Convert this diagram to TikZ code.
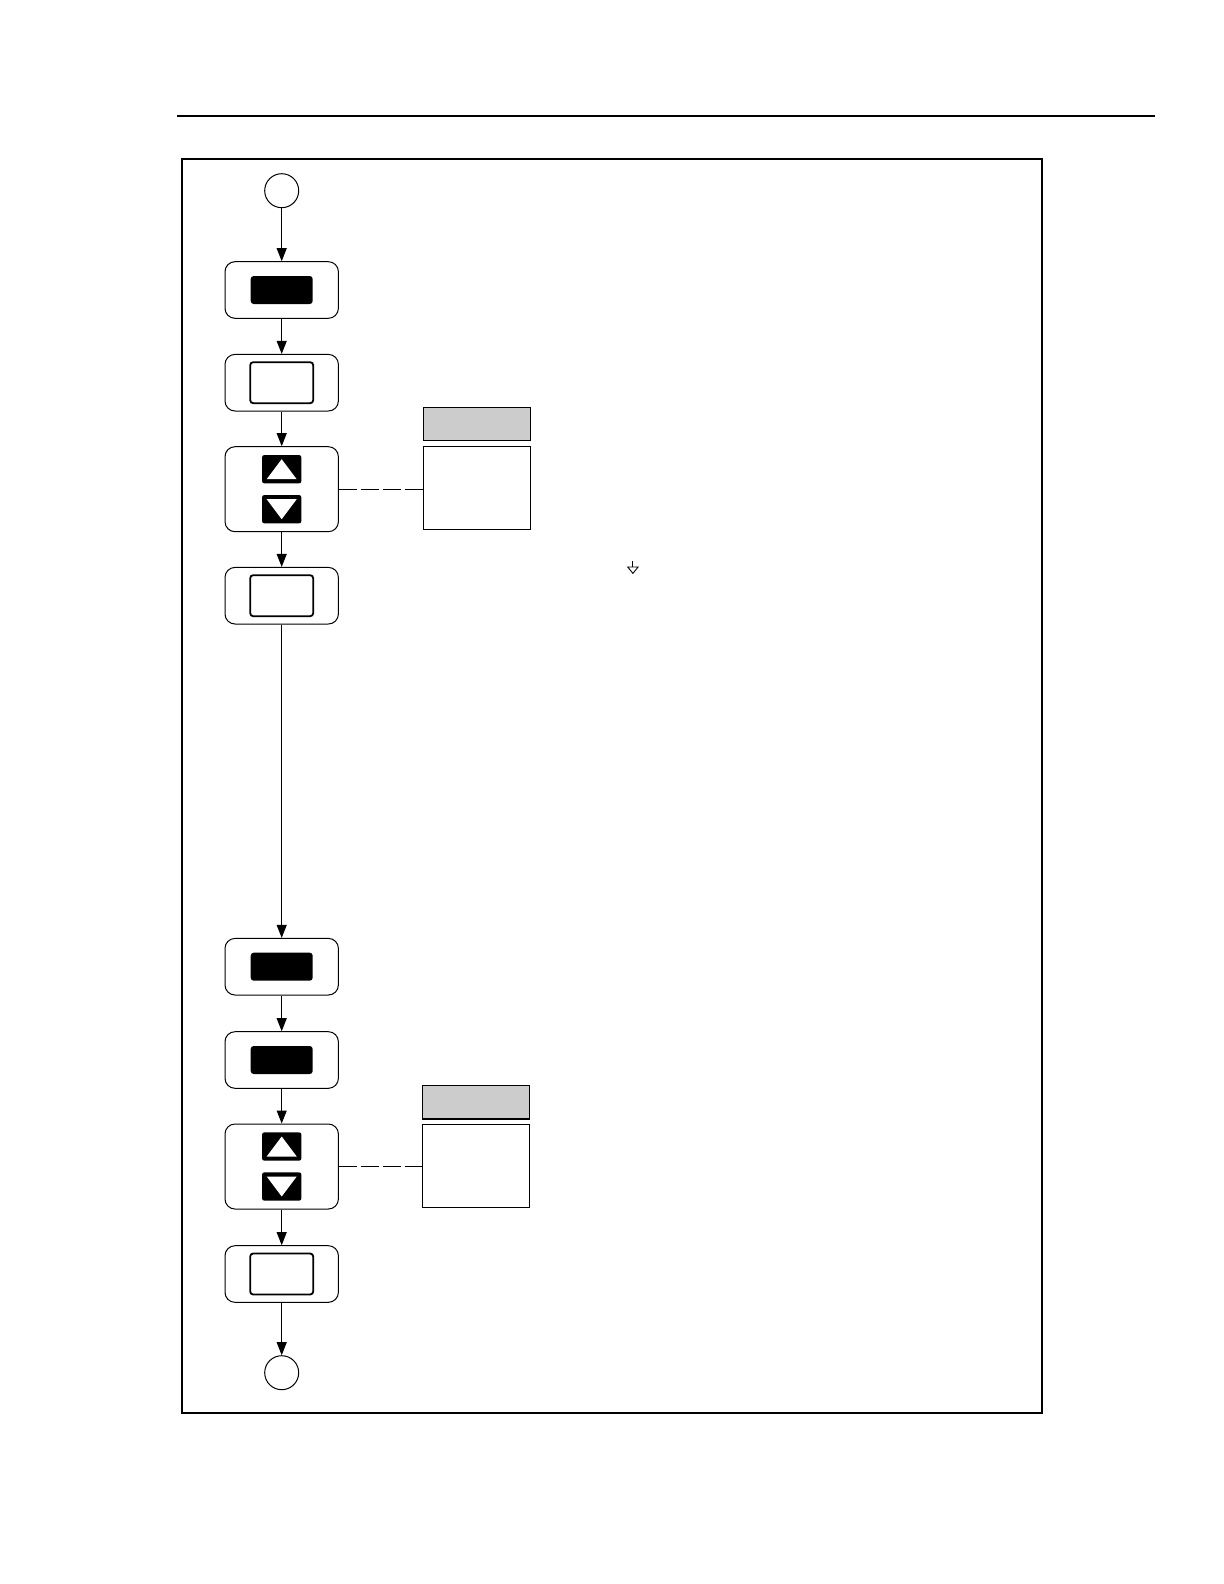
\documentclass[tikz,border=0pt]{standalone}
\usetikzlibrary{arrows.meta}
\begin{document}
\begin{tikzpicture}[x=0.5pt,y=-0.5pt,
  stepbox/.style={draw,rounded corners=5pt,line width=0.5pt,minimum width=56.7pt,minimum height=28.3pt,inner sep=0pt},
  tallbox/.style={stepbox,minimum height=42.5pt},
  termcirc/.style={draw,circle,line width=0.5pt,minimum size=17pt,inner sep=0pt},
  blackdisp/.style={fill=black,rounded corners=1.5pt,minimum width=31pt,minimum height=14pt,inner sep=0pt},
  whitedisp/.style={draw,line width=0.9pt,rounded corners=1.5pt,minimum width=31.5pt,minimum height=20.5pt,inner sep=0pt},
  keybtn/.style={fill=black,rounded corners=1.2pt,minimum width=19.7pt,minimum height=14.2pt,inner sep=0pt},
  graybox/.style={draw,fill=black!20,line width=0.55pt,minimum width=53.5pt,minimum height=16.8pt,inner sep=0pt},
  notebox/.style={draw,line width=0.55pt,minimum width=53.5pt,minimum height=41.6pt,inner sep=0pt},
  flow/.style={-{Triangle[length=6.5pt,width=5pt]},line width=0.5pt},
  link/.style={line width=0.5pt,dash pattern=on 9.2pt off 1.8pt}]
\useasboundingbox (0,0) rectangle (1224,1584);
% header rule and frame
\coordinate (ruleL) at (177,116);
\coordinate (ruleR) at (1155,116);
\draw[line width=0.75pt] (ruleL) -- (ruleR);
\coordinate (frameA) at (181.7,158.7);
\coordinate (frameB) at (1042,1413.3);
\draw[line width=1pt] (frameA) rectangle (frameB);

% nodes
\node[termcirc] (start) at (281.7,190.7) {};
\node[stepbox] (b1) at (281.7,290) {};
\node[blackdisp] (d1) at (b1) {};
\node[stepbox] (b2) at (281.7,382.7) {};
\node[whitedisp] (d2) at (b2) {};
\node[tallbox] (b3) at (281.7,489.2) {};
\node[keybtn] (u3) at (281.7,469.2) {};
\node[keybtn] (n3) at (281.7,509.2) {};
\node[stepbox] (b4) at (281.7,595.7) {};
\node[whitedisp] (d4) at (b4) {};
\node[stepbox] (b5) at (281.7,966.7) {};
\node[blackdisp] (d5) at (b5) {};
\node[stepbox] (b6) at (281.7,1060) {};
\node[blackdisp] (d6) at (b6) {};
\node[tallbox] (b7) at (281.7,1166.5) {};
\node[keybtn] (u7) at (281.7,1146.5) {};
\node[keybtn] (n7) at (281.7,1186.5) {};
\node[stepbox] (b8) at (281.7,1274) {};
\node[whitedisp] (d8) at (b8) {};
\node[termcirc] (stop) at (281.7,1372.7) {};

% key triangles
\foreach \k in {u3,u7}{
  \fill[white] ([xshift=-7.5pt,yshift=-5pt]\k.center) -- ([xshift=7.5pt,yshift=-5pt]\k.center) -- ([yshift=5pt]\k.center) -- cycle;}
\foreach \k in {n3,n7}{
  \fill[white] ([xshift=-7.5pt,yshift=5pt]\k.center) -- ([xshift=7.5pt,yshift=5pt]\k.center) -- ([yshift=-5pt]\k.center) -- cycle;}

% side notes
\node[graybox] (g1) at (477,424) {};
\node[notebox] (w1) at (477,487.7) {};
\node[graybox] (g2) at (476.2,1102.2) {};
\node[notebox] (w2) at (476.2,1165.7) {};

% flow
\draw[flow] (start) -- (b1);
\draw[flow] (b1) -- (b2);
\draw[flow] (b2) -- (b3);
\draw[flow] (b3) -- (b4);
\draw[flow] (b4) -- (b5);
\draw[flow] (b5) -- (b6);
\draw[flow] (b6) -- (b7);
\draw[flow] (b7) -- (b8);
\draw[flow] (b8) -- (stop);
\draw[link] (b3.east) -- (b3.east -| w1.west);
\draw[link] (b7.east) -- (b7.east -| w2.west);

% small arrow symbol
\coordinate (sym) at (632.9,561);
\draw[line width=0.45pt] (sym) -- ++(0,6);
\draw[line width=0.45pt] ([xshift=-2.6pt,yshift=-3pt]sym) -- ([xshift=2.6pt,yshift=-3pt]sym) -- ([yshift=-6.2pt]sym) -- cycle;
\end{tikzpicture}
\end{document}
